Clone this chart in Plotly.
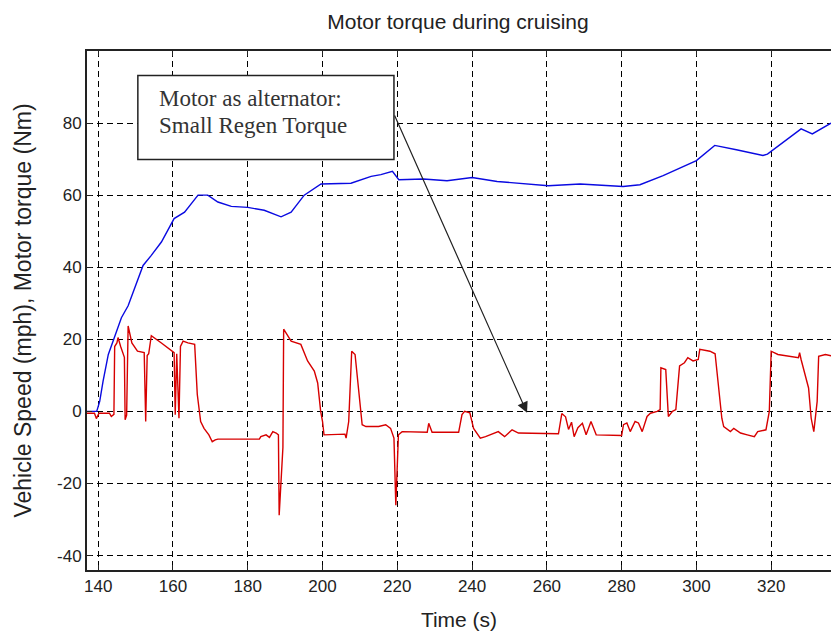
import plotly.graph_objects as go

# ---------------- data ----------------
speed_t = [137.0, 139.6, 140.4, 141.3, 142.7, 144.4, 146.2, 148.0, 149.8, 152.0, 154.2, 156.9,
           160.3, 163.1, 166.7, 169.3, 172.0, 175.6, 180.0, 184.4, 188.9, 191.6, 195.1, 199.6,
           207.6, 210.2, 213.0, 215.6, 218.7, 220.4, 227.0, 233.3, 240.0, 246.7, 253.8, 260.4,
           268.9, 280.4, 284.9, 291.1, 300.0, 304.9, 310.7, 317.8, 319.0, 322.2, 328.0, 331.0, 336.0]
speed_v = [0.0, 0.0, 2.8, 8.4, 15.8, 20.5, 26.0, 29.3, 34.4, 40.5, 43.3, 47.0,
           53.5, 55.3, 60.0, 60.0, 58.1, 56.9, 56.6, 55.8, 54.0, 55.3, 60.0, 63.1,
           63.3, 64.2, 65.2, 65.7, 66.6, 64.3, 64.5, 64.0, 64.9, 63.8, 63.1, 62.6,
           63.1, 62.4, 62.9, 65.4, 69.6, 73.8, 72.6, 71.0, 71.4, 73.8, 78.4, 77.0, 80.0]

torque_t = [136.5, 139.0, 139.5, 140.2, 143.0, 143.5, 144.2, 144.4, 145.0, 145.3, 146.0, 146.7,
            147.0, 147.2, 147.6, 148.0, 149.0, 150.5, 152.3, 152.7, 153.1, 153.5, 154.2, 156.9,
            158.7, 160.3, 160.6, 161.0, 161.6, 162.0, 162.7, 164.0, 165.8, 166.5, 167.4, 168.3,
            169.6, 170.5, 171.3, 172.0, 183.1, 183.5, 184.9, 185.8, 186.7, 187.6, 188.2, 188.4,
            189.4, 189.6, 191.6, 194.2, 196.0, 197.8, 198.7, 199.5, 200.0, 200.4, 206.0, 206.3,
            207.0, 207.8, 208.7, 209.3, 210.2, 210.6, 211.6, 215.0, 216.9, 218.2, 219.1, 219.6,
            220.3, 221.3, 228.0, 228.4, 229.3, 236.4, 237.3, 238.0, 239.4, 240.4, 242.2, 243.6,
            247.0, 248.7, 250.7, 252.4, 263.1, 264.0, 265.0, 265.8, 266.6, 267.3, 268.3, 269.5,
            270.5, 271.8, 273.2, 280.0, 280.5, 281.4, 282.3, 283.6, 284.5, 285.5, 286.8, 287.7,
            289.5, 290.3, 290.5, 291.8, 292.5, 293.6, 294.5, 295.5, 296.8, 297.7, 299.1, 300.5,
            300.9, 301.8, 303.6, 305.0, 305.9, 306.8, 307.3, 309.1, 310.0, 311.8, 313.6, 315.5,
            316.4, 318.6, 319.5, 320.0, 321.8, 325.5, 327.3, 327.6, 328.0, 330.0, 330.7, 331.4,
            332.3, 332.7, 334.5, 336.6]
torque_v = [-0.5, -0.5, -2.0, -0.5, -0.5, -1.4, -0.8, 18.0, 19.0, 20.5, 18.0, 15.8,
            15.0, -2.3, -1.0, 23.7, 19.0, 16.7, 16.3, -2.8, 15.5, 16.0, 21.0, 19.0,
            17.6, 16.3, -0.9, 16.0, -1.9, 18.0, 19.5, 19.0, 18.6, 4.7, -2.8, -4.7,
            -6.5, -8.4, -7.9, -7.7, -7.7, -7.0, -6.5, -7.2, -5.6, -6.0, -6.5, -28.8,
            -10.0, 22.8, 19.5, 18.6, 14.0, 11.2, 7.9, 0.0, -2.8, -6.5, -6.3, -7.4,
            -2.8, 16.7, 15.8, 9.3, 0.0, -3.7, -4.2, -4.2, -3.7, -4.7, -7.4, -26.0,
            -6.5, -5.6, -5.8, -3.3, -5.8, -5.8, -0.9, 0.0, -0.4, -4.7, -7.4, -7.0,
            -5.6, -7.0, -5.1, -6.0, -6.2, -0.6, -1.5, -5.0, -3.0, -7.0, -4.5, -3.3,
            -6.5, -2.8, -6.5, -6.7, -3.7, -3.2, -5.6, -2.8, -3.2, -5.6, -1.4, -0.5,
            0.0, 0.5, 12.1, 11.6, -1.4, 0.0, 0.5, 12.6, 13.5, 14.9, 14.0, 14.4,
            17.2, 17.0, 16.7, 16.0, 6.5, -1.9, -4.2, -5.6, -4.7, -6.0, -6.5, -7.0,
            -5.6, -5.1, 0.0, 16.7, 15.8, 15.3, 14.9, 16.3, 14.4, 6.5, -1.9, -5.6,
            2.8, 15.3, 15.8, 15.3]

x_ticks = [140, 160, 180, 200, 220, 240, 260, 280, 300, 320]
y_ticks = [-40, -20, 0, 20, 40, 60, 80]
y_ticklabels = ["-40", "-20", "0", "20", "40", "60", "80"]
x_range = [137, 336]
y_range = [-44, 100]

title_text = "Motor torque during cruising"
x_title = "Time (s)"
y_title = "Vehicle Speed (mph), Motor torque (Nm)"
note_lines = ["Motor as alternator:", "Small Regen Torque"]

# ---------------- figure ----------------
W, H = 831, 635

fig = go.Figure()
fig.add_trace(go.Scatter(x=speed_t, y=speed_v, mode="lines",
                         line=dict(color="rgb(10,10,225)", width=1.4), showlegend=False))
fig.add_trace(go.Scatter(x=torque_t, y=torque_v, mode="lines",
                         line=dict(color="rgb(215,0,0)", width=1.4), showlegend=False))
# invisible trace for top axis
fig.add_trace(go.Scatter(x=[x_range[0]], y=[y_range[0]], xaxis="x2", mode="markers",
                         marker=dict(opacity=0), showlegend=False, hoverinfo="skip"))

font_sans = "Liberation Sans, Arial, sans-serif"
grid_common = dict(showgrid=True, gridcolor="black", gridwidth=1.2, griddash="6px,4px",
                   zeroline=False, showline=True, linecolor="#222", linewidth=2,
                   ticks="inside", ticklen=5, tickcolor="#222", tickwidth=1, automargin=False,
                   tickfont=dict(family=font_sans, size=17, color="#222"))

fig.update_layout(
    width=W, height=H,
    margin=dict(l=87, r=0, t=51, b=65, autoexpand=False),
    paper_bgcolor="white", plot_bgcolor="white",
    title=dict(text=title_text, x=458 / W, xanchor="center",
               y=1 - 22 / H, yanchor="middle",
               yref="container", automargin=False,
               font=dict(family=font_sans, size=21, color="#222")),
    xaxis=dict(range=x_range, tickvals=x_ticks, **grid_common,
               title=dict(text=x_title, font=dict(family=font_sans, size=21, color="#222"),
                          standoff=17)),
    xaxis2=dict(range=x_range, overlaying="x", side="top", tickvals=x_ticks,
                showticklabels=False, showgrid=False, zeroline=False, showline=True,
                automargin=False,
                linecolor="#222", linewidth=2, ticks="inside", ticklen=5, tickcolor="#222"),
    yaxis=dict(range=y_range, tickvals=y_ticks, ticktext=y_ticklabels, **grid_common,
               title=dict(text=y_title, font=dict(family=font_sans, size=23, color="#222"),
                          standoff=19)),
)

# annotation box
fig.add_shape(type="rect", xref="x", yref="y", x0=150.6, x1=219.1, y0=69.9, y1=93.2,
              line=dict(color="#222", width=1.5), fillcolor="white", layer="above")
serif = "Liberation Serif, Times New Roman, serif"
fig.add_annotation(x=155.7, y=86.7, xref="x", yref="y", text=note_lines[0], showarrow=False,
                   xanchor="left", yanchor="middle", font=dict(family=serif, size=23, color="#333"))
fig.add_annotation(x=155.7, y=79.2, xref="x", yref="y", text=note_lines[1], showarrow=False,
                   xanchor="left", yanchor="middle", font=dict(family=serif, size=23, color="#333"))
# arrow
fig.add_annotation(x=254.7, y=-0.4, ax=219.1, ay=82.5, xref="x", yref="y", axref="x", ayref="y",
                   text="", showarrow=True, arrowhead=2, arrowsize=1.8, arrowwidth=1.2,
                   arrowcolor="#222")

# remove the default page margin so the figure sits at the window origin
fig.write_html("out.html", config={"displayModeBar": False},
               post_script="document.body.style.margin='0';"
                           "document.body.style.overflow='hidden';")
